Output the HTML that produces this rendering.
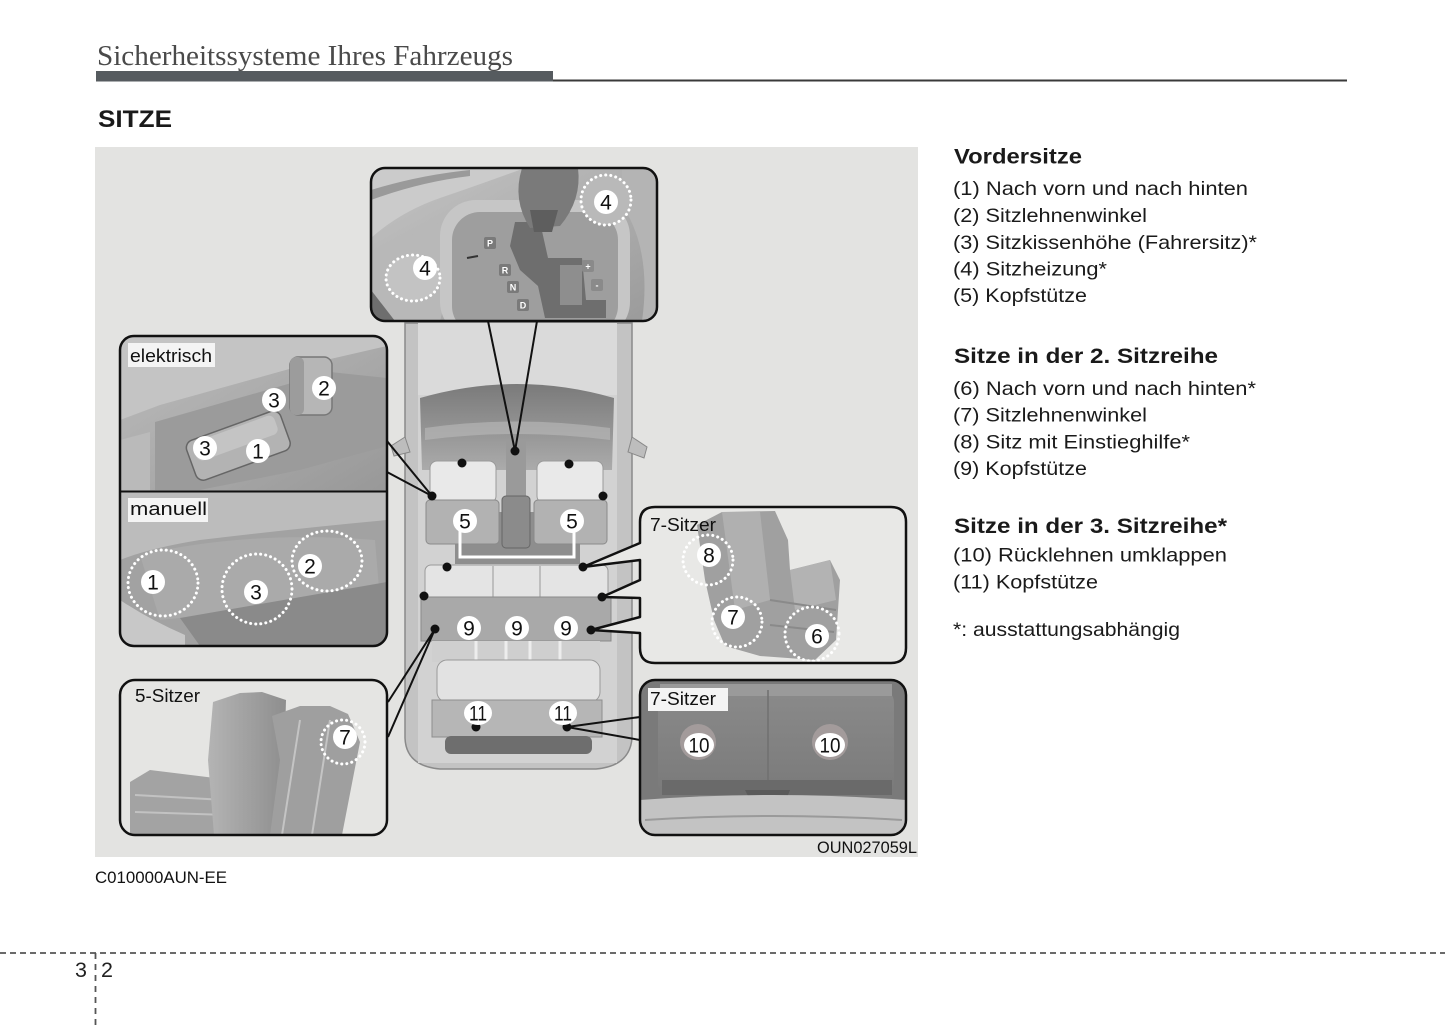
<!DOCTYPE html>
<html><head><meta charset="utf-8">
<style>
html,body{margin:0;padding:0;background:#fff;}
svg{display:block;}
text{font-family:"Liberation Sans",Arial,sans-serif;}
.serif{font-family:"Liberation Serif","Times New Roman",serif;}
.dot{fill:none;stroke:#fff;stroke-width:3;stroke-dasharray:0.1 5;stroke-linecap:round;}
.bd{fill:none;stroke:#111;stroke-width:2.5;}
.cn{stroke:#111;stroke-width:2;fill:none;}
</style></head><body>
<svg width="1445" height="1026" viewBox="0 0 1445 1026" xmlns="http://www.w3.org/2000/svg">
<defs>
<linearGradient id="glass" x1="0" y1="0" x2="0" y2="1"><stop offset="0" stop-color="#7a7a7a"/><stop offset="1" stop-color="#ababab"/></linearGradient>
<linearGradient id="gear" x1="0" y1="0" x2="1" y2="1"><stop offset="0" stop-color="#c4c4c4"/><stop offset="1" stop-color="#9a9a9a"/></linearGradient>
<linearGradient id="elek" x1="0" y1="0" x2="1" y2="1"><stop offset="0" stop-color="#bdbdbd"/><stop offset="1" stop-color="#989898"/></linearGradient>
<linearGradient id="seat" x1="0" y1="0" x2="1" y2="0"><stop offset="0" stop-color="#b4b4b4"/><stop offset="1" stop-color="#8e8e8e"/></linearGradient>
<linearGradient id="trunk" x1="0" y1="0" x2="0" y2="1"><stop offset="0" stop-color="#8a8a8a"/><stop offset="1" stop-color="#7a7a7a"/></linearGradient>
<clipPath id="cG"><rect x="371" y="168" width="286" height="153" rx="14"/></clipPath>
<clipPath id="cE"><rect x="120" y="336" width="267" height="310" rx="14"/></clipPath>
<clipPath id="c5"><rect x="120" y="680" width="267" height="155" rx="15"/></clipPath>
<clipPath id="c7a"><rect x="640" y="507" width="266" height="156" rx="15"/></clipPath>
<clipPath id="c7b"><rect x="640" y="680" width="266" height="155" rx="15"/></clipPath>
</defs>
<rect width="1445" height="1026" fill="#fff"/>

<!-- header -->
<text class="serif" x="97" y="65" font-size="28" fill="#4a4a4a" textLength="416" lengthAdjust="spacingAndGlyphs">Sicherheitssysteme Ihres Fahrzeugs</text>
<rect x="96" y="71" width="457" height="10.5" fill="#565b5f"/>
<rect x="553" y="79.5" width="794" height="2" fill="#3a3a3a"/>
<text x="98" y="127" font-size="24" font-weight="bold" fill="#1a1a1a" textLength="74" lengthAdjust="spacingAndGlyphs">SITZE</text>

<!-- illustration background -->
<rect x="95" y="147" width="823" height="710" fill="#e3e3e1"/>

<!-- CAR -->
<g>
 <path d="M405,323 L405,738 Q406,766 440,769 L596,769 Q630,766 632,738 L632,323 Z" fill="#c3c3c3" stroke="#8a8a8a" stroke-width="1.5"/>
 <rect x="418" y="323" width="199" height="440" fill="#d2d2d2"/>
 <path d="M405,437 L391,446 L394,456 L410,452 Z" fill="#bdbdbd" stroke="#888"/>
 <path d="M632,437 L647,447 L644,458 L628,452 Z" fill="#bdbdbd" stroke="#888"/>
 <rect x="418" y="323" width="199" height="72" fill="#dadada"/>
 <path d="M420,398 Q517,370 614,398 L612,470 L422,470 Z" fill="url(#glass)"/>
 <path d="M425,428 Q517,415 610,428 L610,440 Q517,428 425,440 Z" fill="#b5b5b5" opacity="0.7"/>
 <rect x="455" y="512" width="125" height="52" fill="#8e8e8e"/>
 <!-- front seats -->
 <rect x="430" y="461" width="66" height="42" rx="7" fill="#e9e9e9" stroke="#9a9a9a"/>
 <rect x="426" y="500" width="73" height="44" rx="4" fill="#b2b2b2" stroke="#8a8a8a"/>
 <rect x="537" y="461" width="66" height="42" rx="7" fill="#e9e9e9" stroke="#9a9a9a"/>
 <rect x="534" y="500" width="73" height="44" rx="4" fill="#b2b2b2" stroke="#8a8a8a"/>
 <rect x="506" y="440" width="20" height="58" fill="#9a9a9a"/>
 <rect x="502" y="496" width="28" height="52" rx="4" fill="#8b8b8b" stroke="#666"/>
 <!-- second row -->
 <rect x="425" y="565" width="183" height="35" rx="6" fill="#e4e4e4" stroke="#9a9a9a"/>
 <line x1="493" y1="566" x2="493" y2="640" stroke="#999"/>
 <line x1="540" y1="566" x2="540" y2="640" stroke="#999"/>
 <rect x="421" y="597" width="190" height="44" fill="#a9a9a9" stroke="#8a8a8a"/>
 <rect x="432" y="641" width="168" height="21" fill="#cfcfcf"/>
 <g stroke="#ededed" stroke-width="3"><line x1="476" y1="641" x2="476" y2="662"/><line x1="506" y1="641" x2="506" y2="662"/><line x1="530" y1="641" x2="530" y2="662"/><line x1="560" y1="641" x2="560" y2="662"/></g>
 <!-- third row -->
 <rect x="437" y="660" width="163" height="42" rx="10" fill="#e2e2e2" stroke="#9a9a9a"/>
 <rect x="432" y="700" width="170" height="37" fill="#b6b6b6" stroke="#8e8e8e"/>
 <rect x="445" y="736" width="147" height="18" rx="6" fill="#6e6e6e"/>
 <path d="M460,530 V557 H574 V530" fill="none" stroke="#fff" stroke-width="3"/>
</g>

<!-- GEAR INSET -->
<g clip-path="url(#cG)">
 <rect x="371" y="168" width="286" height="153" fill="url(#gear)"/>
 <path d="M371,168 L525,168 Q470,188 440,198 Q400,212 371,238 Z" fill="#cbcbcb"/>
 <path d="M371,190 Q420,175 470,170 L470,176 Q420,182 371,200 Z" fill="#9a9a9a"/>
 <path d="M371,255 Q420,228 468,214 L440,321 L371,321 Z" fill="#b8b8b8"/>
 <path d="M371,290 L395,321 L371,321 Z" fill="#6e6e6e"/>
 <rect x="440" y="200" width="190" height="138" rx="36" fill="#c6c6c6"/>
 <rect x="452" y="212" width="166" height="122" rx="28" fill="#9e9e9e"/>
 <path d="M515,222 L540,222 L548,258 L582,258 L586,300 L606,300 L606,318 L545,318 L538,286 L520,270 L510,246 Z" fill="#6e6e6e"/>
 <rect x="560" y="265" width="22" height="40" fill="#8e8e8e"/>
 <path d="M522,168 L578,168 Q582,200 560,226 L530,228 Q512,200 522,168 Z" fill="#7a7a7a"/>
 <path d="M530,210 L558,210 L552,232 L534,232 Z" fill="#5e5e5e"/>
 <path d="M622,168 L657,168 L657,321 L642,321 Q652,250 622,205 Z" fill="#b4b4b4"/>
 <g font-size="9" font-weight="bold" fill="#fff" text-anchor="middle">
  <rect x="484" y="237" width="12" height="12" rx="2" fill="#7a7a7a"/><text x="490" y="246.5">P</text>
  <rect x="499" y="264" width="12" height="12" rx="2" fill="#7a7a7a"/><text x="505" y="273.5">R</text>
  <rect x="507" y="281" width="12" height="12" rx="2" fill="#7a7a7a"/><text x="513" y="290.5">N</text>
  <rect x="517" y="299" width="12" height="12" rx="2" fill="#7a7a7a"/><text x="523" y="308.5">D</text>
  <rect x="582" y="260" width="12" height="12" rx="2" fill="#8a8a8a"/><text x="588" y="269.5">+</text>
  <rect x="591" y="279" width="12" height="12" rx="2" fill="#8a8a8a"/><text x="597" y="288.5">-</text>
 </g>
 <line x1="467" y1="258" x2="478" y2="256" stroke="#333" stroke-width="2"/>
 <ellipse cx="413" cy="278" rx="27" ry="23" fill="#c3c3c3"/>
 <ellipse cx="413" cy="278" rx="27" ry="23" class="dot"/>
 <circle cx="606" cy="200" r="25" fill="#b9b9b9"/>
 <circle cx="606" cy="200" r="25" class="dot"/>
</g>
<rect x="371" y="168" width="286" height="153" rx="14" class="bd"/>

<!-- ELEKTRISCH / MANUELL INSET -->
<g clip-path="url(#cE)">
 <rect x="120" y="336" width="267" height="156" fill="url(#elek)"/>
 <path d="M120,336 L387,336 L387,346 L300,366 L160,405 L120,420 Z" fill="#c4c4c4"/>
 <path d="M155,422 L330,372 L387,378 L387,446 L300,470 L200,490 L155,490 Z" fill="#9b9b9b"/>
 <path d="M120,440 L150,432 L150,492 L120,492 Z" fill="#bababa"/>
 <g transform="rotate(-20 237 445)">
  <rect x="188" y="425" width="100" height="42" rx="8" fill="#b3b3b3" stroke="#666" stroke-width="1.5"/>
  <rect x="195" y="428" width="86" height="20" rx="6" fill="#c4c4c4"/>
 </g>
 <rect x="290" y="357" width="42" height="58" rx="8" fill="#b6b6b6" stroke="#777" stroke-width="1.5"/>
 <rect x="290" y="357" width="14" height="58" rx="6" fill="#9c9c9c"/>
 <!-- manuell -->
 <rect x="120" y="492" width="267" height="154" fill="#a2a2a2"/>
 <path d="M120,492 L387,492 L387,520 Q300,528 200,540 Q150,548 120,560 Z" fill="#bcbcbc"/>
 <path d="M140,555 Q250,530 375,540 L380,600 Q260,610 160,620 Z" fill="#aaaaaa"/>
 <path d="M180,618 L387,582 L387,646 L200,646 Z" fill="#8a8a8a"/>
 <path d="M120,600 Q150,620 185,635 L185,646 L120,646 Z" fill="#c8c8c8"/>
 <ellipse cx="163" cy="583" rx="35" ry="33" class="dot"/>
 <circle cx="257" cy="589" r="35" class="dot"/>
 <ellipse cx="327" cy="561" rx="35" ry="30" class="dot"/>
</g>
<rect x="120" y="336" width="267" height="310" rx="14" class="bd"/>
<line x1="120" y1="491.5" x2="387" y2="491.5" stroke="#111" stroke-width="2"/>
<rect x="128" y="343" width="87" height="24" fill="#f4f4f4"/>
<text x="130" y="362" font-size="18.5" fill="#111" textLength="82" lengthAdjust="spacingAndGlyphs">elektrisch</text>
<rect x="128" y="498" width="80" height="24" fill="#f4f4f4"/>
<text x="130" y="515" font-size="18.5" fill="#111" textLength="77" lengthAdjust="spacingAndGlyphs">manuell</text>

<!-- 5-SITZER INSET -->
<g clip-path="url(#c5)">
 <rect x="120" y="680" width="267" height="155" fill="#e5e5e3"/>
 <path d="M130,782 L150,770 L215,778 L235,800 L235,835 L130,835 Z" fill="#a3a3a3"/>
 <path d="M135,795 L225,800 M135,812 L228,815" stroke="#c2c2c2" stroke-width="2" fill="none"/>
 <path d="M213,702 L240,693 L262,692 L286,700 L284,770 L272,835 L214,835 L208,760 Z" fill="url(#seat)"/>
 <path d="M272,716 L300,706 L330,706 L348,714 L360,742 L342,835 L270,835 L280,760 Z" fill="#9f9f9f"/>
 <path d="M300,720 L282,835 M330,720 L312,835" stroke="#c4c4c4" stroke-width="2" fill="none"/>
 <circle cx="343" cy="742" r="22" class="dot"/>
</g>
<rect x="120" y="680" width="267" height="155" rx="15" class="bd"/>
<text x="135" y="702" font-size="18.5" fill="#111" textLength="65" lengthAdjust="spacingAndGlyphs">5-Sitzer</text>

<!-- 7-SITZER UPPER INSET -->
<path d="M640,543 L640,522 Q640,507 655,507 L891,507 Q906,507 906,522 L906,648 Q906,663 891,663 L655,663 Q640,663 640,648 L640,633 L591,630 L640,617 L640,598 L602,597 L640,580 L640,560 L583,567 Z" fill="#e8e8e6"/>
<g clip-path="url(#c7a)">
 <path d="M697,525 L722,512 L775,511 L788,540 L790,570 L830,560 L840,580 L836,640 L815,660 L760,656 L725,646 L714,620 L705,580 Z" fill="#a0a0a0"/>
 <path d="M722,512 L760,512 L770,600 L735,610 Z" fill="#b0b0b0"/>
 <path d="M790,570 L830,560 L836,600 L795,610 Z" fill="#b3b3b3"/>
 <path d="M770,600 L836,610 M770,625 L834,632" stroke="#8a8a8a" stroke-width="2" fill="none"/>
 <circle cx="708" cy="560" r="25" class="dot"/>
 <circle cx="737" cy="622" r="25" class="dot"/>
 <circle cx="812" cy="634" r="27" class="dot"/>
</g>
<path d="M640,543 L640,522 Q640,507 655,507 L891,507 Q906,507 906,522 L906,648 Q906,663 891,663 L655,663 Q640,663 640,648 L640,633 L591,630 L640,617 L640,598 L602,597 L640,580 L640,560 L583,567 Z" fill="none" stroke="#111" stroke-width="2.5" stroke-linejoin="round"/>
<text x="650" y="531" font-size="18.5" fill="#111" textLength="66" lengthAdjust="spacingAndGlyphs">7-Sitzer</text>

<!-- 7-SITZER LOWER INSET -->
<g clip-path="url(#c7b)">
 <rect x="640" y="680" width="266" height="155" fill="#7a7a7a"/>
 <rect x="658" y="690" width="236" height="105" rx="12" fill="url(#trunk)"/>
 <rect x="660" y="684" width="232" height="12" fill="#9a9a9a"/>
 <line x1="768" y1="690" x2="768" y2="785" stroke="#707070" stroke-width="1.5"/>
 <path d="M662,780 L892,780 L892,795 L662,795 Z" fill="#6a6a6a"/>
 <path d="M745,790 L790,790 L786,800 L750,800 Z" fill="#5a5a5a"/>
 <path d="M640,800 Q773,790 906,800 L906,835 L640,835 Z" fill="#c3c3c3"/>
 <path d="M645,820 Q773,812 902,820" stroke="#9a9a9a" stroke-width="2" fill="none"/>
 <circle cx="698" cy="742" r="18" fill="#a39b9b"/>
 <circle cx="830" cy="742" r="18" fill="#a39b9b"/>
</g>
<rect x="640" y="680" width="266" height="155" rx="15" class="bd"/>
<rect x="648" y="688" width="80" height="23" fill="#f4f4f4"/>
<text x="650" y="705" font-size="18.5" fill="#111" textLength="66" lengthAdjust="spacingAndGlyphs">7-Sitzer</text>

<!-- connectors -->
<polyline points="488,321 515,451 537,321" class="cn"/>
<polyline points="387,441 432,496 387,472" class="cn"/>
<polyline points="388,702 435,629 388,737" class="cn"/>
<polyline points="640,717 567,727 640,740" class="cn"/>

<!-- dots -->
<g fill="#111">
 <circle cx="462" cy="463" r="4.5"/><circle cx="569" cy="464" r="4.5"/>
 <circle cx="432" cy="496" r="4.5"/><circle cx="603" cy="496" r="4.5"/>
 <circle cx="515" cy="451" r="4.5"/>
 <circle cx="447" cy="567" r="4.5"/><circle cx="583" cy="567" r="4.5"/>
 <circle cx="424" cy="596" r="4.5"/><circle cx="602" cy="597" r="4.5"/>
 <circle cx="435" cy="629" r="4.5"/><circle cx="591" cy="630" r="4.5"/>
 <circle cx="476" cy="727" r="4.5"/><circle cx="567" cy="727" r="4.5"/>
</g>

<!-- badges -->
<g font-size="21" fill="#111" text-anchor="middle">
 <g><circle cx="606" cy="202" r="12" fill="#fff"/><text x="606" y="209.5">4</text></g>
 <g><circle cx="425" cy="268" r="12" fill="#fff"/><text x="425" y="275.5">4</text></g>
 <g><circle cx="324" cy="388" r="12" fill="#fff"/><text x="324" y="395.5">2</text></g>
 <g><circle cx="274" cy="400" r="12" fill="#fff"/><text x="274" y="407.5">3</text></g>
 <g><circle cx="205" cy="448" r="12" fill="#fff"/><text x="205" y="455.5">3</text></g>
 <g><circle cx="258" cy="451" r="12" fill="#fff"/><text x="258" y="458.5">1</text></g>
 <g><circle cx="153" cy="582" r="12" fill="#fff"/><text x="153" y="589.5">1</text></g>
 <g><circle cx="256" cy="592" r="12" fill="#fff"/><text x="256" y="599.5">3</text></g>
 <g><circle cx="310" cy="566" r="12" fill="#fff"/><text x="310" y="573.5">2</text></g>
 <g><circle cx="465" cy="521" r="12" fill="#fff"/><text x="465" y="528.5">5</text></g>
 <g><circle cx="572" cy="521" r="12" fill="#fff"/><text x="572" y="528.5">5</text></g>
 <g><circle cx="469" cy="628" r="12" fill="#fff"/><text x="469" y="635.5">9</text></g>
 <g><circle cx="517" cy="628" r="12" fill="#fff"/><text x="517" y="635.5">9</text></g>
 <g><circle cx="566" cy="628" r="12" fill="#fff"/><text x="566" y="635.5">9</text></g>
 <g><ellipse cx="478" cy="713" rx="14" ry="12" fill="#fff"/><text x="478" y="720.5" textLength="18" lengthAdjust="spacingAndGlyphs">11</text></g>
 <g><ellipse cx="563" cy="713" rx="14" ry="12" fill="#fff"/><text x="563" y="720.5" textLength="18" lengthAdjust="spacingAndGlyphs">11</text></g>
 <g><circle cx="709" cy="555" r="12" fill="#fff"/><text x="709" y="562.5">8</text></g>
 <g><circle cx="733" cy="617" r="12" fill="#fff"/><text x="733" y="624.5">7</text></g>
 <g><circle cx="817" cy="636" r="12" fill="#fff"/><text x="817" y="643.5">6</text></g>
 <g><circle cx="345" cy="737" r="12" fill="#fff"/><text x="345" y="744.5">7</text></g>
 <g><ellipse cx="699" cy="745" rx="15" ry="12" fill="#fff"/><text x="699" y="752.5" textLength="21" lengthAdjust="spacingAndGlyphs">10</text></g>
 <g><ellipse cx="830" cy="745" rx="15" ry="12" fill="#fff"/><text x="830" y="752.5" textLength="21" lengthAdjust="spacingAndGlyphs">10</text></g>
</g>

<text x="817" y="853" font-size="16.5" fill="#111" textLength="100" lengthAdjust="spacingAndGlyphs">OUN027059L</text>
<text x="95" y="883" font-size="17" fill="#111" textLength="132" lengthAdjust="spacingAndGlyphs">C010000AUN-EE</text>

<!-- right column -->
<g fill="#1a1a1a" font-size="19.5">
 <text x="954" y="163.5" font-size="21" font-weight="bold" textLength="128" lengthAdjust="spacingAndGlyphs">Vordersitze</text>
 <text x="953" y="195" textLength="295" lengthAdjust="spacingAndGlyphs">(1) Nach vorn und nach hinten</text>
 <text x="953" y="222" textLength="194" lengthAdjust="spacingAndGlyphs">(2) Sitzlehnenwinkel</text>
 <text x="953" y="249" textLength="304" lengthAdjust="spacingAndGlyphs">(3) Sitzkissenhöhe (Fahrersitz)*</text>
 <text x="953" y="275.5" textLength="154" lengthAdjust="spacingAndGlyphs">(4) Sitzheizung*</text>
 <text x="953" y="302" textLength="134" lengthAdjust="spacingAndGlyphs">(5) Kopfstütze</text>
 <text x="954" y="363" font-size="21" font-weight="bold" textLength="264" lengthAdjust="spacingAndGlyphs">Sitze in der 2. Sitzreihe</text>
 <text x="953" y="395" textLength="303" lengthAdjust="spacingAndGlyphs">(6) Nach vorn und nach hinten*</text>
 <text x="953" y="421.5" textLength="194" lengthAdjust="spacingAndGlyphs">(7) Sitzlehnenwinkel</text>
 <text x="953" y="448.5" textLength="237" lengthAdjust="spacingAndGlyphs">(8) Sitz mit Einstieghilfe*</text>
 <text x="953" y="475" textLength="134" lengthAdjust="spacingAndGlyphs">(9) Kopfstütze</text>
 <text x="954" y="533" font-size="21" font-weight="bold" textLength="273" lengthAdjust="spacingAndGlyphs">Sitze in der 3. Sitzreihe*</text>
 <text x="953" y="561.5" textLength="274" lengthAdjust="spacingAndGlyphs">(10) Rücklehnen umklappen</text>
 <text x="953" y="588.5" textLength="145" lengthAdjust="spacingAndGlyphs">(11) Kopfstütze</text>
 <text x="953" y="636" textLength="227" lengthAdjust="spacingAndGlyphs">*: ausstattungsabhängig</text>
</g>

<!-- footer -->
<line x1="0" y1="953" x2="1445" y2="953" stroke="#555" stroke-width="1.8" stroke-dasharray="6 4"/>
<line x1="95.5" y1="953" x2="95.5" y2="1026" stroke="#555" stroke-width="1.8" stroke-dasharray="6 5"/>
<text x="75" y="977" font-size="21.5" fill="#222">3</text>
<text x="101" y="977" font-size="21.5" fill="#222">2</text>
</svg>
</body></html>
